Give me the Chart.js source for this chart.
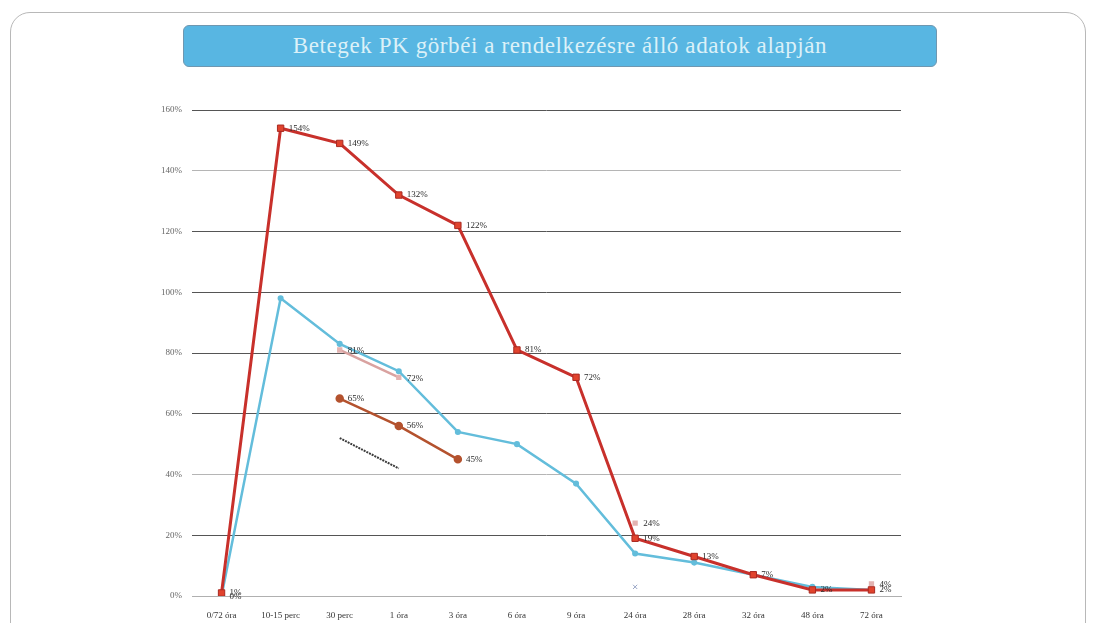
<!DOCTYPE html>
<html lang="hu">
<head>
<meta charset="utf-8">
<title>Betegek PK görbéi</title>
<script src="https://cdn.jsdelivr.net/npm/chart.js@4/dist/chart.umd.min.js"></script>
<style>
  html, body { margin: 0; padding: 0; background: #fff; width: 1098px; height: 623px; overflow: hidden; }
  .frame {
    position: absolute; left: 10px; top: 12px; width: 1076px; height: 650px;
    border: 1px solid #b8b8b8; border-radius: 20px; box-sizing: border-box;
  }
  .title {
    position: absolute; left: 183px; top: 25px; width: 754px; height: 42px;
    background: #58b6e2; border: 1px solid #6f97b0; border-radius: 6px; box-sizing: border-box;
    color: #dcf1f8; font-family: "Liberation Serif", "DejaVu Serif", serif; font-size: 23px;
    line-height: 40px; text-align: center; letter-spacing: 0.6px;
  }
  canvas { position: absolute; left: 0; top: 0; }
</style>
</head>
<body>
<div class="frame"></div>
<div class="title">Betegek PK görbéi a rendelkezésre álló adatok alapján</div>
<canvas id="pk" width="1098" height="623"></canvas>
<script>
// Time points of sampling
const categories = ["0/72 óra", "10-15 perc", "30 perc", "1 óra", "3 óra", "6 óra", "9 óra",
                    "24 óra", "28 óra", "32 óra", "48 óra", "72 óra"];
// Concentration curves, % of reference level
const seriesRed   = [1, 154, 149, 132, 122, 81, 72, 19, 13, 7, 2, 2];
const seriesBlue  = [0, 98, 83, 74, 54, 50, 37, 14, 11, 7, 3, 2];
const seriesPink  = [0, null, 81, 72, null, null, null, 24, null, null, null, 4];
const seriesBrown = [null, null, 65, 56, 45, null, null, null, null, null, null, null];
const seriesDark  = [null, null, 52, 42, null, null, null, null, null, null, null, null];
const seriesCross = [null, null, null, null, null, null, null, 3, null, null, null, null];
// Y axis ticks
const yTicks = [0, 20, 40, 60, 80, 100, 120, 140, 160];

const serif = "'Liberation Serif', 'DejaVu Serif', serif";

// Writes the value of each labelled point to the right of its marker
const valueLabels = {
  id: 'valueLabels',
  afterDatasetsDraw(chart) {
    const ctx = chart.ctx;
    ctx.save();
    ctx.font = '9px ' + serif;
    ctx.fillStyle = '#2a2a2a';
    ctx.textBaseline = 'middle';
    ctx.textAlign = 'left';
    chart.data.datasets.forEach((ds, i) => {
      if (!ds.labelled) return;
      const meta = chart.getDatasetMeta(i);
      meta.data.forEach((pt, j) => {
        const v = ds.data[j];
        if (v === null || v === undefined) return;
        ctx.fillText(v + '%', pt.x + 8, pt.y + (ds.labelDy || 0));
      });
    });
    ctx.restore();
  }
};

new Chart(document.getElementById('pk'), {
  type: 'line',
  data: {
    labels: categories,
    datasets: [
      {
        data: seriesRed, labelled: true,
        borderColor: '#c8302b', borderWidth: 3,
        pointStyle: 'rect', pointRadius: 4.5,
        pointBackgroundColor: '#e1432d', pointBorderColor: '#a92a22', pointBorderWidth: 1
      },
      {
        data: seriesBlue,
        borderColor: '#63bddb', borderWidth: 2.5,
        pointStyle: 'circle', pointRadius: 1.8,
        pointBackgroundColor: '#63bddb', pointBorderColor: '#63bddb'
      },
      {
        data: seriesPink, labelled: true, labelDy: 1,
        borderColor: '#d9a2a0', borderWidth: 2.5,
        pointStyle: 'rect', pointRadius: 2,
        pointBackgroundColor: '#e3b3b1', pointBorderColor: '#e3b3b1'
      },
      {
        data: seriesBrown, labelled: true,
        borderColor: '#b4522e', borderWidth: 2.5,
        pointStyle: 'circle', pointRadius: 3,
        pointBackgroundColor: '#b4522e', pointBorderColor: '#b4522e'
      },
      {
        data: seriesDark,
        borderColor: '#3b3b3b', borderWidth: 2, borderDash: [2, 1],
        pointRadius: 0
      },
      {
        data: seriesCross, showLine: false,
        pointStyle: 'crossRot', pointRadius: 3, pointBorderWidth: 1,
        pointBorderColor: '#9aa6c6'
      }
    ]
  },
  options: {
    responsive: false,
    animation: false,
    events: [],
    layout: { padding: { top: 110, right: 197, bottom: 0, left: 0 } },
    plugins: { legend: { display: false }, tooltip: { enabled: false }, title: { display: false } },
    scales: {
      x: {
        offset: true,
        grid: { display: false },
        border: { color: '#b0b0b0', width: 1 },
        ticks: { font: { family: serif, size: 9 }, color: '#333', padding: 6, maxRotation: 0, autoSkip: false },
        afterFit(s) { s.height = 27; }
      },
      y: {
        min: 0, max: 160,
        afterBuildTicks(s) { s.ticks = yTicks.map(v => ({ value: v })); },
        ticks: {
          font: { family: serif, size: 9 }, color: '#666', padding: 10,
          callback: v => v + '%'
        },
        grid: {
          drawTicks: false,
          color: c => ([140, 40, 0].includes(c.tick && c.tick.value) ? '#b5b5b5' : '#555'),
          lineWidth: 1
        },
        border: { display: false },
        afterFit(s) { s.width = 192; }
      }
    }
  },
  plugins: [valueLabels]
});
</script>
</body>
</html>
